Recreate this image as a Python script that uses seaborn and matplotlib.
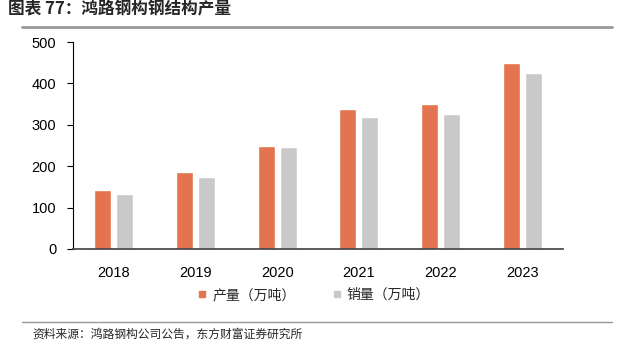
import matplotlib
matplotlib.use("Agg")
import matplotlib.pyplot as plt
import pandas as pd
import seaborn as sns
from matplotlib.lines import Line2D

years = ["2018", "2019", "2020", "2021", "2022", "2023"]
production = [143, 186, 250, 338, 350, 449]
sales = [133, 175, 247, 318, 326, 426]
series_names = ["产量（万吨）", "销量（万吨）"]
colors = ["#E3744F", "#C9C9C9"]

df = pd.DataFrame({
    "year": years * 2,
    "value": production + sales,
    "series": [series_names[0]] * len(years) + [series_names[1]] * len(years),
})

sns.set_theme(style="white")
plt.rcParams["font.family"] = ["Liberation Sans", "Noto Sans CJK SC", "DejaVu Sans"]

fig = plt.figure(figsize=(6.24, 3.52), dpi=100)
ax = fig.add_axes([73 / 624, 1 - 249 / 352, 490 / 624, 207 / 352])

sns.barplot(data=df, x="year", y="value", hue="series", palette=colors,
            width=0.54, gap=0.22, ax=ax, legend=False, saturation=1)

ax.set_xlim(-0.5, 5.5)
ax.set_ylim(0, 500)
ax.set_yticks(range(0, 501, 100))
ax.set_xlabel("")
ax.set_ylabel("")
for s in ["top", "right"]:
    ax.spines[s].set_visible(False)
ax.spines["left"].set_color("#000000")
ax.spines["left"].set_linewidth(0.8)
ax.spines["bottom"].set_color("#404040")
ax.spines["bottom"].set_linewidth(1.2)
ax.tick_params(axis="y", which="both", left=True, length=4, width=0.8,
               direction="out", labelsize=10.5, pad=8, colors="#000000")
ax.tick_params(axis="x", bottom=False, labelsize=10.5, pad=6, colors="#000000")

# legend
handles = [Line2D([], [], marker="s", linestyle="", markersize=5,
                  markerfacecolor=c, markeredgecolor=c) for c in colors]
fig.legend(handles, series_names, loc="center", bbox_to_anchor=(312 / 624, 1 - 295 / 352),
           ncol=2, frameon=False, handletextpad=0.1, handlelength=1.2, columnspacing=2.4,
           prop={"family": ["Noto Sans CJK SC"], "size": 10})

# title and source
fig.text(8 / 624, 1 - 9 / 352, "图表 77：鸿路钢构钢结构产量", ha="left", va="center",
         fontsize=12, fontweight="bold", family=["Noto Sans CJK SC", "DejaVu Sans"])
fig.add_artist(Line2D([22 / 624, 612 / 624], [1 - 27 / 352, 1 - 27 / 352],
                      color="#999999", lw=2))
fig.add_artist(Line2D([22 / 624, 612 / 624], [1 - 322 / 352, 1 - 322 / 352],
                      color="#999999", lw=1))
fig.text(32 / 624, 1 - 334 / 352, "资料来源：鸿路钢构公司公告，东方财富证券研究所",
         ha="left", va="center", fontsize=8.5, family=["Noto Sans CJK SC", "DejaVu Sans"])

fig.savefig("out.png", dpi=100)
